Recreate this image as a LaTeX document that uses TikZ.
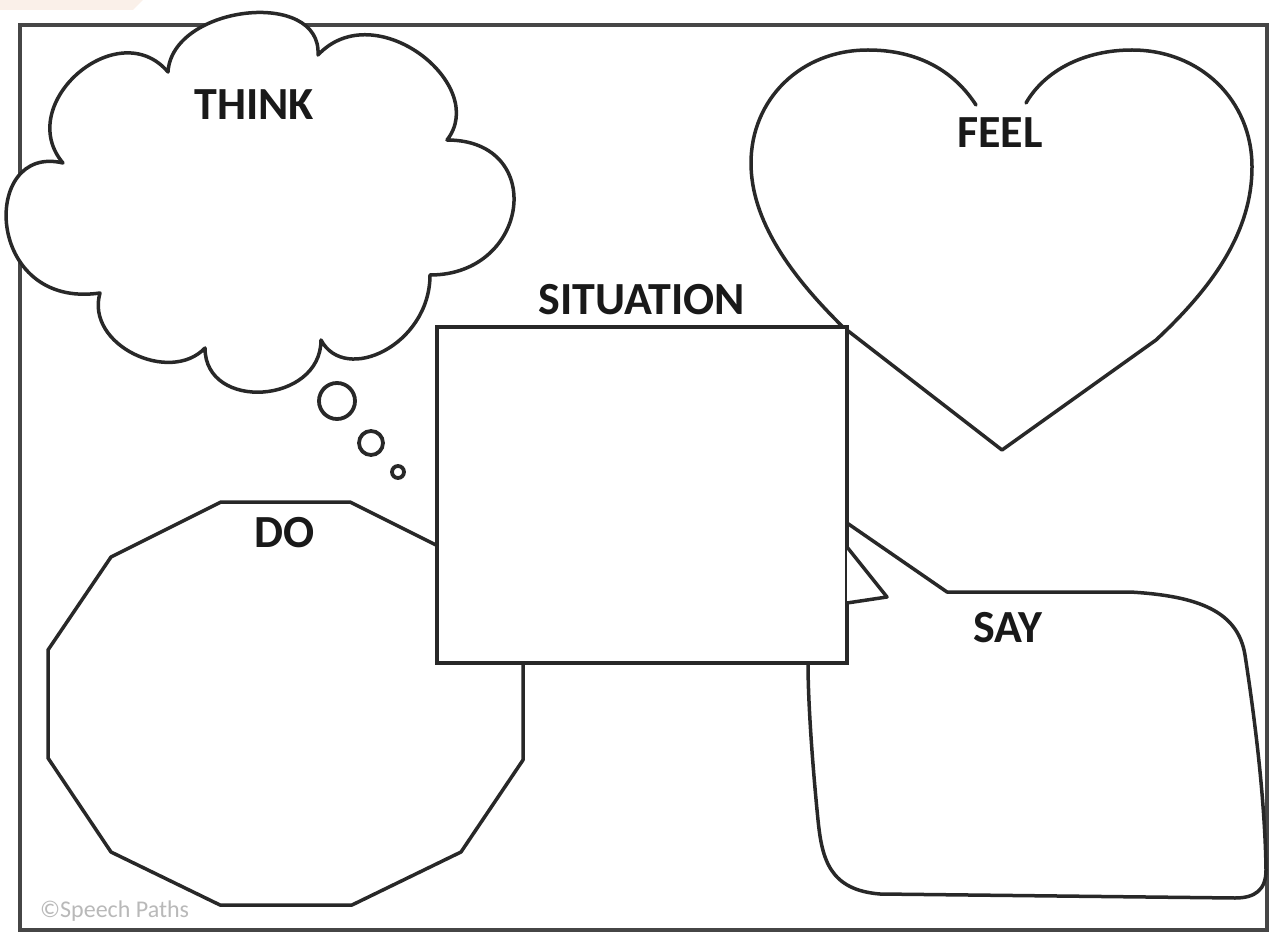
\documentclass[tikz,border=0pt]{standalone}
\usepackage{fontspec}
\setmainfont{Carlito}
\usepackage{xcolor}
\usepackage{tikz}
\usetikzlibrary{positioning}
\definecolor{inkgray}{RGB}{40,40,40}
\definecolor{framegray}{RGB}{70,70,70}
\definecolor{headblack}{RGB}{25,25,25}
\definecolor{notegray}{RGB}{185,185,185}
\definecolor{cornerpink}{RGB}{250,240,233}

\begin{document}
\begin{tikzpicture}[
  x=1pt, y=-1pt,
  outline/.style={draw=inkgray, line width=3.5pt, line join=round, line cap=round, fill=white},
  heading/.style={font=\fontsize{46}{50}\selectfont\bfseries, text=headblack, inner sep=0pt},
  bubble/.style={circle, draw=inkgray, line width=3.8pt, fill=white, inner sep=0pt},
  credit/.style={font=\fontsize{24}{26}\selectfont, text=notegray, inner sep=0pt}
]
  \useasboundingbox (0,0) rectangle (1269,933);
  \fill[white] (0,0) rectangle (1269,933);
  \fill[cornerpink] (0,0) -- (143,0) -- (133,10) -- (0,10) -- cycle;
  % page frame
  \draw[draw=framegray, line width=4pt] (20,25) rectangle (1267,930);

  % think cloud
  \draw[outline] (63,163) .. controls (13,104) and (118,13) .. (168,72)
    .. controls (172,5) and (322,-12) .. (318,55)
    .. controls (375,-6) and (490,85) .. (447,140)
    .. controls (547,140) and (530,275) .. (430,275)
    .. controls (430,345) and (345,385) .. (321,340)
    .. controls (321,404) and (205,412) .. (205,348)
    .. controls (170,385) and (85,345) .. (100,293)
    .. controls (-16,310) and (-20,143) .. (63,163) -- cycle;
  \node[bubble, minimum size=36pt] (th1) at (337,401) {};
  \node[bubble, minimum size=24pt] (th2) at (371,443) {};
  \node[bubble, minimum size=12pt] (th3) at (398,472) {};

  % feel heart
  \draw[outline, fill=none] (976,105) .. controls (950,65) and (910,50) .. (868,50)
    .. controls (800,50) and (751,100) .. (751,163)
    .. controls (751,220) and (790,275) .. (843,327) -- (1002,450) -- (1156,340)
    .. controls (1215,285) and (1252,230) .. (1252,167)
    .. controls (1252,100) and (1200,50) .. (1132,50)
    .. controls (1085,50) and (1045,70) .. (1026,103);

  % do polygon
  \draw[outline] (221,502) -- (350,502) -- (460,557) -- (523,650) -- (523,760)
    -- (461,852) -- (352,905) -- (220,905) -- (111,852) -- (48,758)
    -- (48,650) -- (111,557) -- cycle;

  % say bubble
  \draw[outline] (847,523) -- (947,592) -- (1130,592)
    .. controls (1200,596) and (1238,612) .. (1245,655)
    .. controls (1255,720) and (1265,800) .. (1266,870)
    .. controls (1266,890) and (1255,898) .. (1235,898) -- (880,894)
    .. controls (830,890) and (822,860) .. (818,820)
    .. controls (812,760) and (808,700) .. (808,663) -- (808,600) -- cycle;

  % situation box
  \node[draw=inkgray, line width=4pt, fill=white, minimum width=410pt,
    minimum height=336pt, inner sep=0pt] (sitbox) at (642,495) {};
  \draw[outline] (847,547) -- (887,597) -- (847,603);

  \node[heading] (think) at (254,105) {THINK};
  \node[heading] (feel) at (1000,133) {FEEL};
  \node[heading, above=10pt of sitbox] (situation) {SITUATION};
  \node[heading] (do) at (285,533) {DO};
  \node[heading] (say) at (1008,628) {SAY};
  \node[credit, anchor=west] (copy) at (40,911) {©Speech Paths};
\end{tikzpicture}
\end{document}
